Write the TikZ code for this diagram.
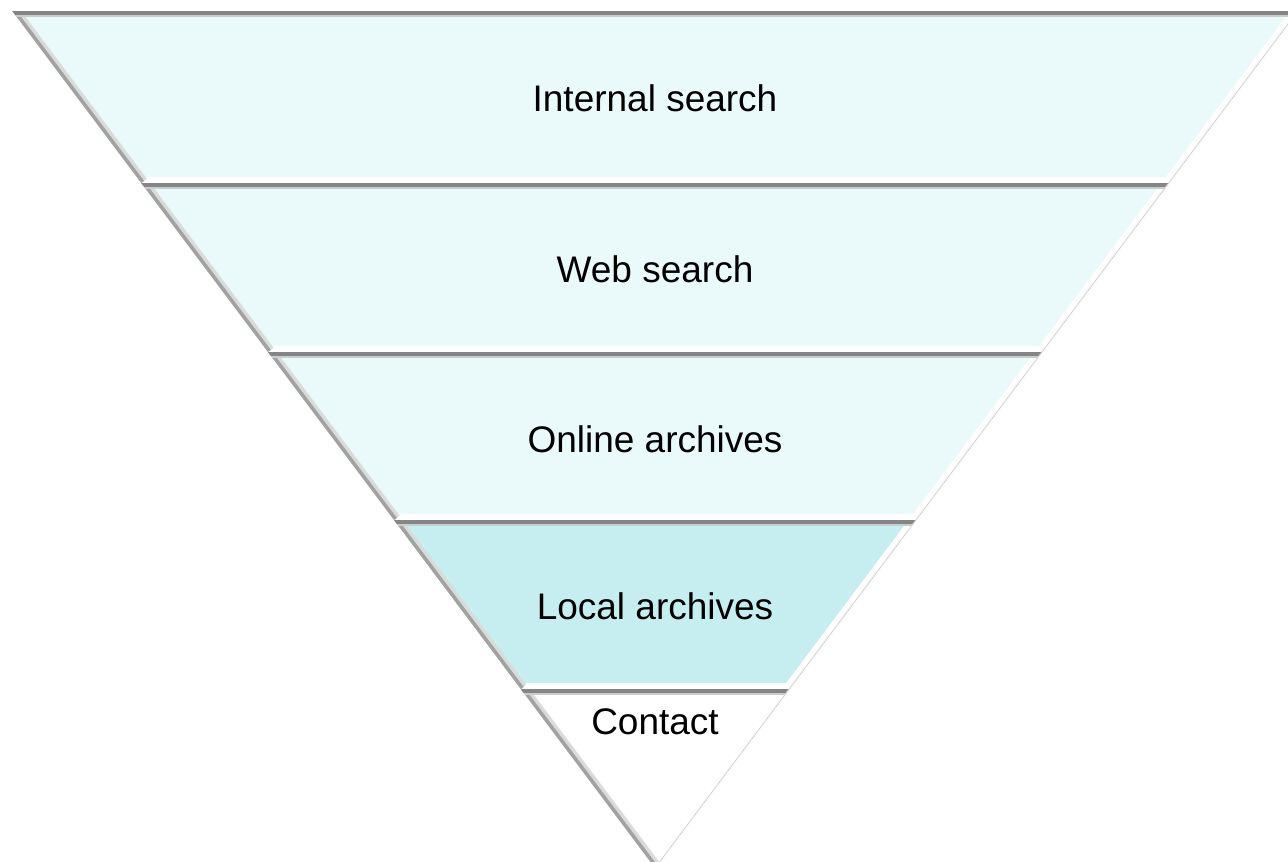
\documentclass[tikz,border=0pt]{standalone}
\usepackage{fontspec}
\setmainfont{Liberation Sans}
\usetikzlibrary{calc}

\definecolor{bandpale}{HTML}{EAF9FA}
\definecolor{bandlocal}{HTML}{C6EEF1}
\definecolor{shadegray}{HTML}{858585}
\definecolor{lightgray}{HTML}{C8CCCC}
\definecolor{edgegray}{HTML}{A2A2A2}
\definecolor{rimgray}{HTML}{D6D6D6}

\tikzset{
  bandlabel/.style={anchor=base, inner sep=0pt, font=\fontsize{37}{44}\selectfont},
  topshade/.style={draw=shadegray, line width=7pt},
  toplight/.style={draw=lightgray, line width=12pt},
  leftshade/.style={draw=edgegray, line width=7pt},
  leftlight/.style={draw=lightgray!70!white, line width=14pt},
  rightlight/.style={draw=white, line width=12pt},
  bottomlight/.style={draw=white, line width=12pt},
  rimline/.style={draw=rimgray, line width=1pt}
}

\begin{document}
\begin{tikzpicture}[x=1pt,y=-1pt]
  \useasboundingbox (0,0) rectangle (1288,862);
  \clip (0,0) rectangle (1288,862);

  % band edges
  \coordinate (e0l) at (12.25,11);   \coordinate (e0r) at (1297.75,11);
  \coordinate (e1l) at (141.25,183); \coordinate (e1r) at (1168.75,183);
  \coordinate (e2l) at (268,352);    \coordinate (e2r) at (1042,352);
  \coordinate (e3l) at (394,520);    \coordinate (e3r) at (916,520);
  \coordinate (e4l) at (520.75,689); \coordinate (e4r) at (789.25,689);
  \coordinate (apex) at (655,868);

  % internal search
  \begin{scope}
    \clip (e0l) -- (e0r) -- (e1r) -- (e1l) -- cycle;
    \fill[bandpale] (e0l) -- (e0r) -- (e1r) -- (e1l) -- cycle;
    \draw[bottomlight] (e1l) -- (e1r);
    \draw[rightlight] (e0r) -- (e1r);
    \draw[leftlight] (e0l) -- (e1l);
    \draw[leftshade] (e0l) -- (e1l);
    \draw[toplight] (e0l) -- (e0r);
    \draw[topshade] (e0l) -- (e0r);
  \end{scope}
  \draw[rimline] (e0r) -- (e1r);

  % web search
  \begin{scope}
    \clip (e1l) -- (e1r) -- (e2r) -- (e2l) -- cycle;
    \fill[bandpale] (e1l) -- (e1r) -- (e2r) -- (e2l) -- cycle;
    \draw[bottomlight] (e2l) -- (e2r);
    \draw[rightlight] (e1r) -- (e2r);
    \draw[leftlight] (e1l) -- (e2l);
    \draw[leftshade] (e1l) -- (e2l);
    \draw[toplight] (e1l) -- (e1r);
    \draw[topshade] (e1l) -- (e1r);
  \end{scope}
  \draw[rimline] (e1r) -- (e2r);

  % online archives
  \begin{scope}
    \clip (e2l) -- (e2r) -- (e3r) -- (e3l) -- cycle;
    \fill[bandpale] (e2l) -- (e2r) -- (e3r) -- (e3l) -- cycle;
    \draw[bottomlight] (e3l) -- (e3r);
    \draw[rightlight] (e2r) -- (e3r);
    \draw[leftlight] (e2l) -- (e3l);
    \draw[leftshade] (e2l) -- (e3l);
    \draw[toplight] (e2l) -- (e2r);
    \draw[topshade] (e2l) -- (e2r);
  \end{scope}
  \draw[rimline] (e2r) -- (e3r);

  % local archives
  \begin{scope}
    \clip (e3l) -- (e3r) -- (e4r) -- (e4l) -- cycle;
    \fill[bandlocal] (e3l) -- (e3r) -- (e4r) -- (e4l) -- cycle;
    \draw[bottomlight] (e4l) -- (e4r);
    \draw[rightlight] (e3r) -- (e4r);
    \draw[leftlight] (e3l) -- (e4l);
    \draw[leftshade] (e3l) -- (e4l);
    \draw[toplight] (e3l) -- (e3r);
    \draw[topshade] (e3l) -- (e3r);
  \end{scope}
  \draw[rimline] (e3r) -- (e4r);

  % contact
  \begin{scope}
    \clip (e4l) -- (e4r) -- (apex) -- cycle;
    \fill[white] (e4l) -- (e4r) -- (apex) -- cycle;
    \draw[leftlight] (e4l) -- (apex);
    \draw[leftshade] (e4l) -- (apex);
    \draw[toplight] (e4l) -- (e4r);
    \draw[topshade] (e4l) -- (e4r);
  \end{scope}
  \draw[rimline] (e4r) -- (apex);

  % labels
  \node[bandlabel] (internal) at (655,111) {Internal search};
  \node[bandlabel] (web) at (655,282) {Web search};
  \node[bandlabel] (online) at (655,452) {Online archives};
  \node[bandlabel] (local) at (655,619) {Local archives};
  \node[bandlabel] (contact) at (655,734) {Contact};
\end{tikzpicture}
\end{document}
